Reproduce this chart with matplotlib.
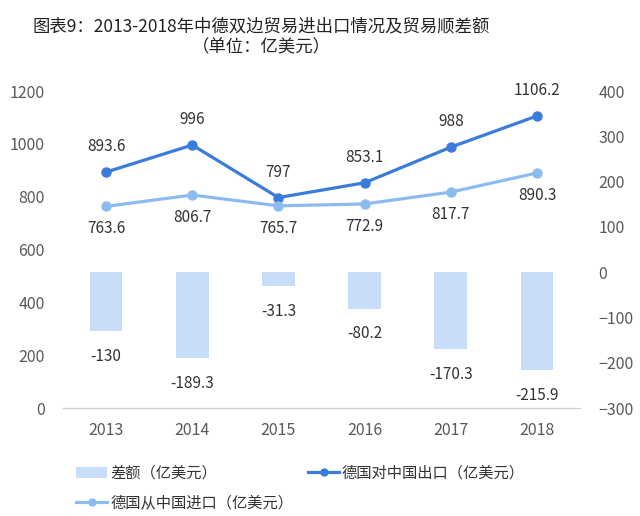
import numpy as np
import matplotlib.pyplot as plt
from matplotlib.lines import Line2D
from matplotlib.patches import Patch

plt.rcParams['font.family'] = ['Noto Sans CJK SC', 'DejaVu Sans']

years = ["2013", "2014", "2015", "2016", "2017", "2018"]
export_de = [893.6, 996, 797, 853.1, 988, 1106.2]
import_de = [763.6, 806.7, 765.7, 772.9, 817.7, 890.3]
balance = [-130, -189.3, -31.3, -80.2, -170.3, -215.9]

c_bar = "#c8ddfa"
c_exp = "#3a7bdc"
c_imp = "#8cbcef"
c_txt = "#333333"
c_tick = "#595959"

fig = plt.figure(figsize=(6.4, 5.16), dpi=100)
ax = fig.add_axes([0.0984, 0.2093, 0.808, 0.614])
ax2 = ax.twinx()

x = np.arange(len(years))

ax2.bar(x, balance, width=0.38, color=c_bar, zorder=1)
ax.plot(x, export_de, color=c_exp, lw=2.3, marker="o", ms=6.5, zorder=3)
ax.plot(x, import_de, color=c_imp, lw=2.3, marker="o", ms=6.5, zorder=3)

# lines above the bars
ax.set_zorder(ax2.get_zorder() + 1)
ax.patch.set_visible(False)

ax.set_ylim(0, 1200)
ax.set_yticks(range(0, 1201, 200))
ax2.set_ylim(-300, 400)
ax2.set_yticks(range(-300, 401, 100))
ax.set_xlim(-0.5, len(years) - 0.5)
ax.set_xticks(x)
ax.set_xticklabels(years)

for a in (ax, ax2):
    for s in ("top", "left", "right"):
        a.spines[s].set_visible(False)
    a.spines["bottom"].set_color("#d0d0d0")
    a.tick_params(length=0, labelsize=11.5, colors=c_tick)
ax.tick_params(axis="y", pad=13)
ax2.tick_params(axis="y", pad=13)
ax.tick_params(axis="x", pad=10)

for xi, v in zip(x, export_de):
    ax.annotate(f"{v:g}", (xi, v), xytext=(0, 12), textcoords="offset points",
                ha="center", va="bottom", fontsize=11, color=c_txt)
for xi, v in zip(x, import_de):
    ax.annotate(f"{v:g}", (xi, v), xytext=(0, -10), textcoords="offset points",
                ha="center", va="top", fontsize=11, color=c_txt)
for xi, v in zip(x, balance):
    ax2.annotate(f"{v:g}", (xi, v), xytext=(0, -12), textcoords="offset points",
                 ha="center", va="top", fontsize=11, color=c_txt)

fig.text(0.408, 0.948, "图表9：2013-2018年中德双边贸易进出口情况及贸易顺差额",
         ha="center", va="center", fontsize=12.5, color="#222222")
fig.text(0.408, 0.909, "（单位：亿美元）", ha="center", va="center",
         fontsize=12.5, color="#222222")

# column-wise fill: bar + import in col 1, export in col 2
handles = [
    Patch(facecolor=c_bar, edgecolor="none"),
    Line2D([], [], color=c_imp, lw=2.3, marker="o", ms=5),
    Line2D([], [], color=c_exp, lw=2.3, marker="o", ms=5),
]
labels = ["差额（亿美元）", "德国从中国进口（亿美元）", "德国对中国出口（亿美元）"]
fig.legend(handles, labels, loc="upper left", bbox_to_anchor=(0.098, 0.126),
           ncol=2, frameon=False, fontsize=11, handlelength=2.0,
           handletextpad=0.2, columnspacing=1.0, labelspacing=0.85,
           labelcolor=c_txt)

fig.savefig("out.png", dpi=100, facecolor="white")
